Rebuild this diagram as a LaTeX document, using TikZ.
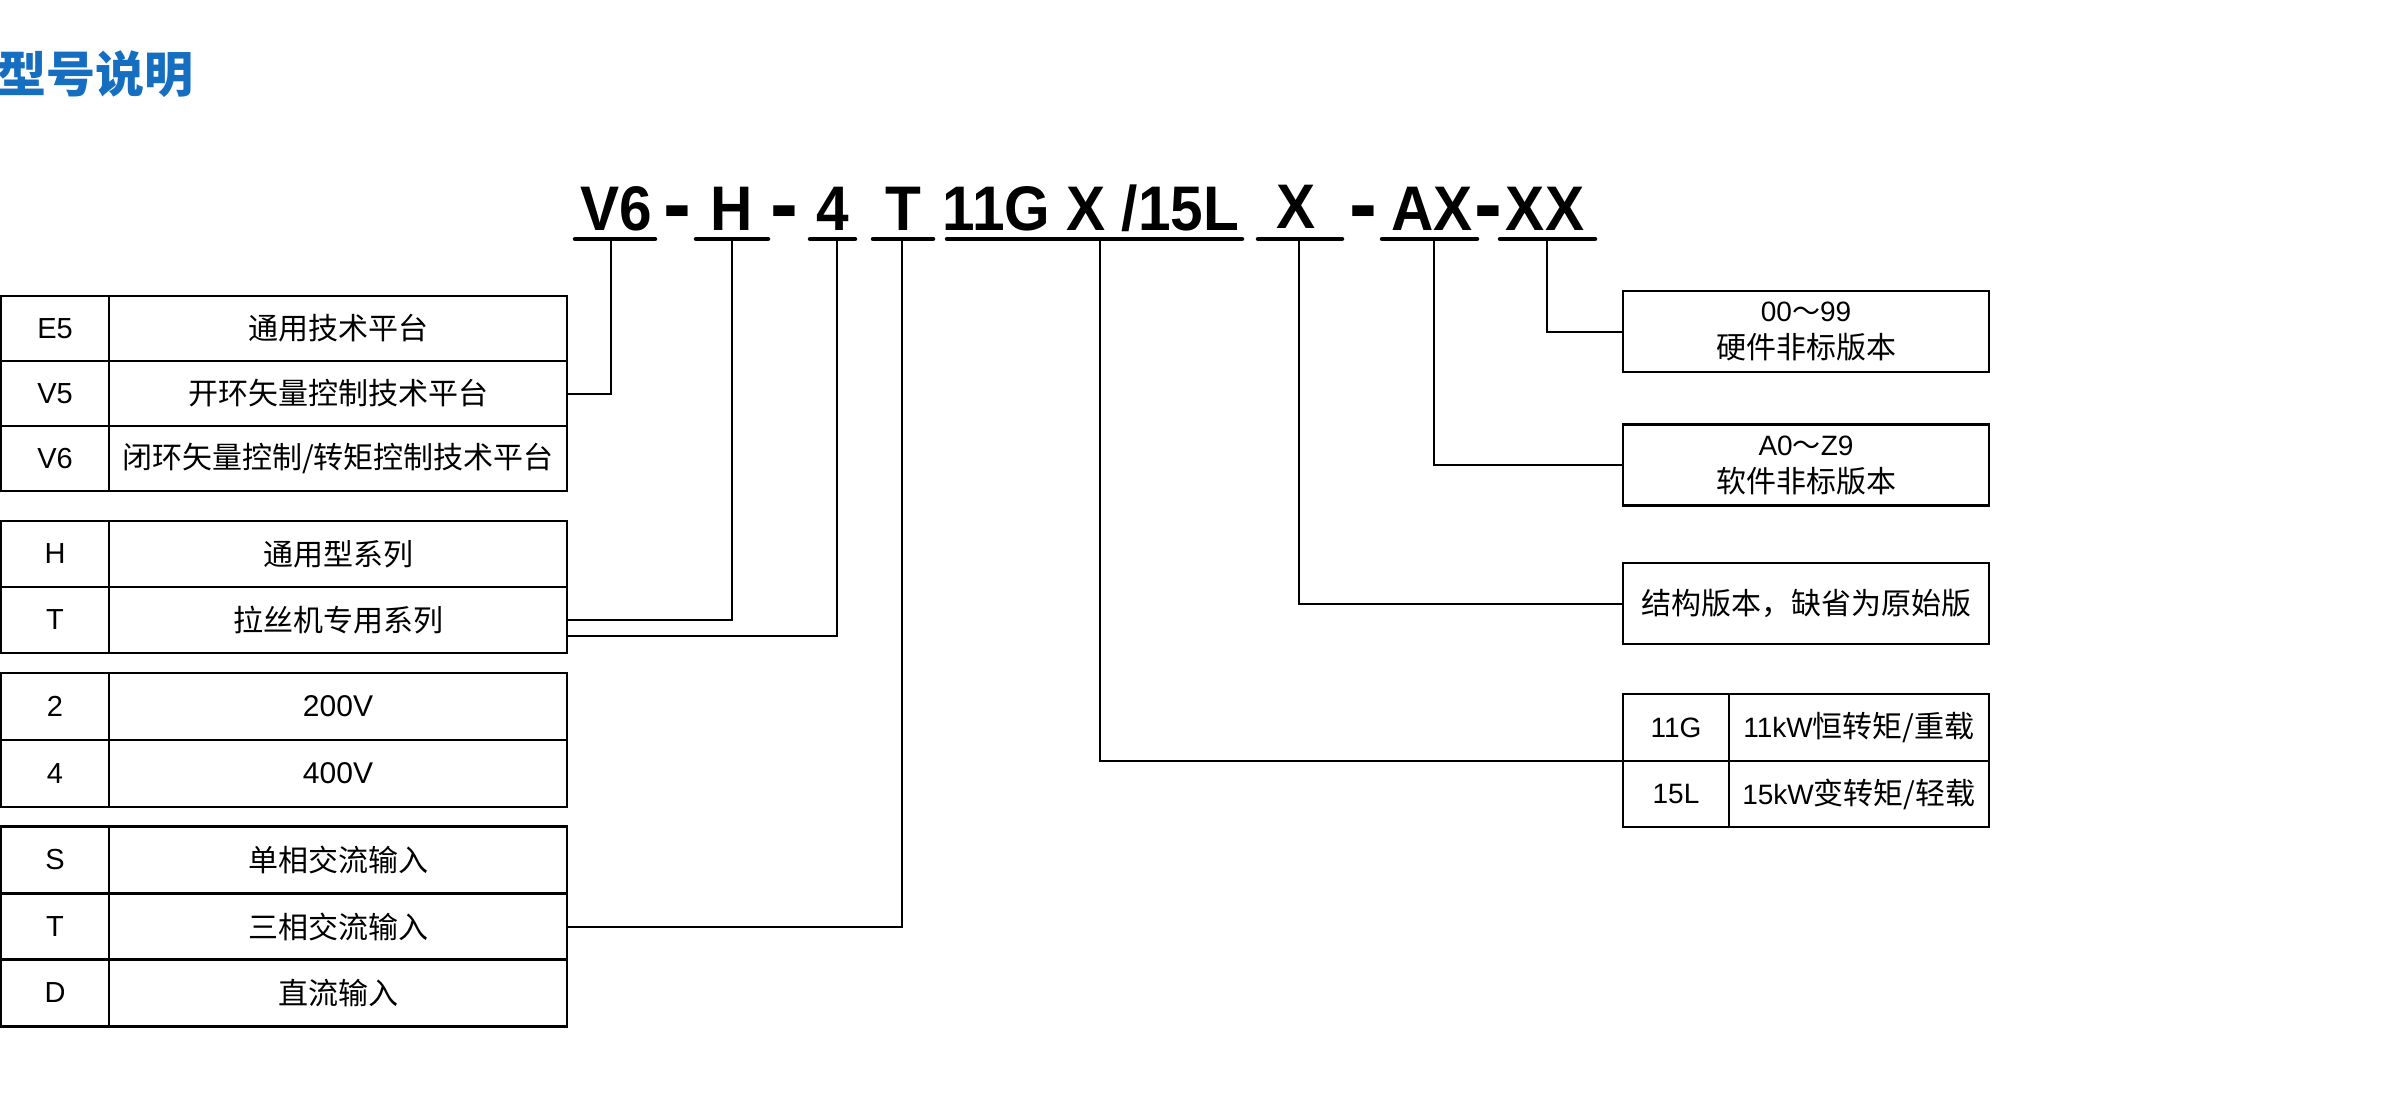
\documentclass[tikz,border=0pt]{standalone}
\usepackage{fontspec}
\setmainfont{Liberation Sans}
\newfontfamily\cjk{Noto Sans CJK SC}
\newfontfamily\codefont{Liberation Sans}[FakeStretch=0.93]
\usetikzlibrary{positioning}
\definecolor{titleblue}{RGB}{22,110,192}

\tikzset{
  kcell/.style={draw,line width=2.6pt,outer sep=0pt,inner sep=0pt,minimum width=108pt,minimum height=65pt,font=\fontsize{29}{29}\selectfont},
  dcell/.style={kcell,minimum width=458pt,font=\cjk\fontsize{30}{30}\selectfont},
  note/.style={draw,line width=2.6pt,outer sep=0pt,inner sep=0pt,minimum width=366pt,minimum height=81pt,align=center,font=\fontsize{28}{37}\selectfont},
  codepart/.style={anchor=base,inner sep=0pt,font=\codefont\bfseries\fontsize{63}{63}\selectfont},
  hyph/.style={codepart,font=\codefont\bfseries\fontsize{90}{90}\selectfont},
  uline/.style={line width=4.5pt,line cap=round},
  link/.style={line width=2pt}
}

\begin{document}
\begin{tikzpicture}[x=1pt,y=-1pt]
  \useasboundingbox (0,0) rectangle (2400,1095);
  % title
  \node[anchor=west,inner sep=0pt,text=titleblue,font=\cjk\bfseries\fontsize{49}{49}\selectfont] (title) at (-3,74) {型号说明};

  % model code
  \node[codepart] (cV6) at (616,230) {V6};
  \node[hyph] (h1) at (677,234) {-};
  \node[codepart] (cH) at (732,230) {H};
  \node[hyph] (h2) at (784,234) {-};
  \node[codepart] (c4) at (833,230) {4};
  \node[codepart] (cT) at (903,230) {T};
  \node[codepart] (cRate) at (1091,230) {11G X /15L};
  \node[codepart] (cX) at (1296,228) {X};
  \node[hyph] (h3) at (1363,234) {-};
  \node[codepart] (cAX) at (1432,230) {AX};
  \node[hyph] (h4) at (1488,234) {-};
  \node[codepart] (cXX) at (1545,230) {XX};

  \draw[uline] (575,239) -- (655,239);
  \draw[uline] (696,239) -- (768,239);
  \draw[uline] (810,239) -- (855,239);
  \draw[uline] (873,239) -- (933,239);
  \draw[uline] (947,239) -- (1242,239);
  \draw[uline] (1258,239) -- (1342,239);
  \draw[uline] (1382,239) -- (1477,239);
  \draw[uline] (1500,239) -- (1595,239);

  \coordinate (uV6) at (611,239);
  \coordinate (uH) at (732,239);
  \coordinate (u4) at (837,239);
  \coordinate (uT) at (902,239);
  \coordinate (u11G) at (1100,239);
  \coordinate (uX) at (1299,239);
  \coordinate (uAX) at (1434,239);
  \coordinate (uXX) at (1547,239);

  % platform
  \node[kcell] (kE5) at (55,328.5) {E5};
  \node[dcell,right=0pt of kE5] (dE5) {通用技术平台};
  \node[kcell,below=0pt of kE5] (kV5) {V5};
  \node[dcell,right=0pt of kV5] (dV5) {开环矢量控制技术平台};
  \node[kcell,below=0pt of kV5] (kV6) {V6};
  \node[dcell,right=0pt of kV6] (dV6) {闭环矢量控制/转矩控制技术平台};

  % series
  \node[kcell,minimum height=66pt] (kH) at (55,554) {H};
  \node[dcell,minimum height=66pt,right=0pt of kH] (dH) {通用型系列};
  \node[kcell,minimum height=66pt,below=0pt of kH] (kTs) {T};
  \node[dcell,minimum height=66pt,right=0pt of kTs] (dTs) {拉丝机专用系列};

  % voltage
  \node[kcell,minimum height=67pt] (k2) at (55,706.5) {2};
  \node[dcell,minimum height=67pt,right=0pt of k2] (d2) {{\rmfamily 200V}};
  \node[kcell,minimum height=67pt,below=0pt of k2] (k4) {4};
  \node[dcell,minimum height=67pt,right=0pt of k4] (d4) {{\rmfamily 400V}};

  % input
  \node[kcell,minimum height=66.5pt] (kS) at (55,860) {S};
  \node[dcell,minimum height=66.5pt,right=0pt of kS] (dS) {单相交流输入};
  \node[kcell,minimum height=66.5pt,below=0pt of kS] (kT3) {T};
  \node[dcell,minimum height=66.5pt,right=0pt of kT3] (dT3) {三相交流输入};
  \node[kcell,minimum height=66.5pt,below=0pt of kT3] (kD) {D};
  \node[dcell,minimum height=66.5pt,right=0pt of kD] (dD) {直流输入};

  % versions and power
  \node[note] (bHard) at (1806,331.5) {00{\cjk ～}99\\{\cjk\fontsize{30}{37}\selectfont 硬件非标版本}};
  \node[note] (bSoft) at (1806,465) {A0{\cjk ～}Z9\\{\cjk\fontsize{30}{37}\selectfont 软件非标版本}};
  \node[note,font=\cjk\fontsize{30}{37}\selectfont] (bStruct) at (1806,603.5) {结构版本，缺省为原始版};
  \node[kcell,minimum width=106pt,minimum height=67pt,font=\fontsize{28}{28}\selectfont] (k11G) at (1676,727.5) {11G};
  \node[dcell,minimum width=260pt,minimum height=67pt,right=0pt of k11G] (d11G) {{\rmfamily\fontsize{28}{28}\selectfont 11kW}恒转矩/重载};
  \node[kcell,minimum width=106pt,minimum height=66pt,font=\fontsize{28}{28}\selectfont,below=0pt of k11G] (k15L) {15L};
  \node[dcell,minimum width=260pt,minimum height=66pt,right=0pt of k15L] (d15L) {{\rmfamily\fontsize{28}{28}\selectfont 15kW}变转矩/轻载};

  % connectors
  \draw[link] (uV6) |- (dV5.east);
  \draw[link] (uH) |- (dTs.east);
  \draw[link] (u4) |- ([yshift=-16pt]dTs.east);
  \draw[link] (uT) |- (dT3.east);
  \draw[link] (u11G) |- (k11G.south west);
  \draw[link] (uX) |- (bStruct.west);
  \draw[link] (uAX) |- (bSoft.west);
  \draw[link] (uXX) |- (bHard.west);
\end{tikzpicture}
\end{document}
